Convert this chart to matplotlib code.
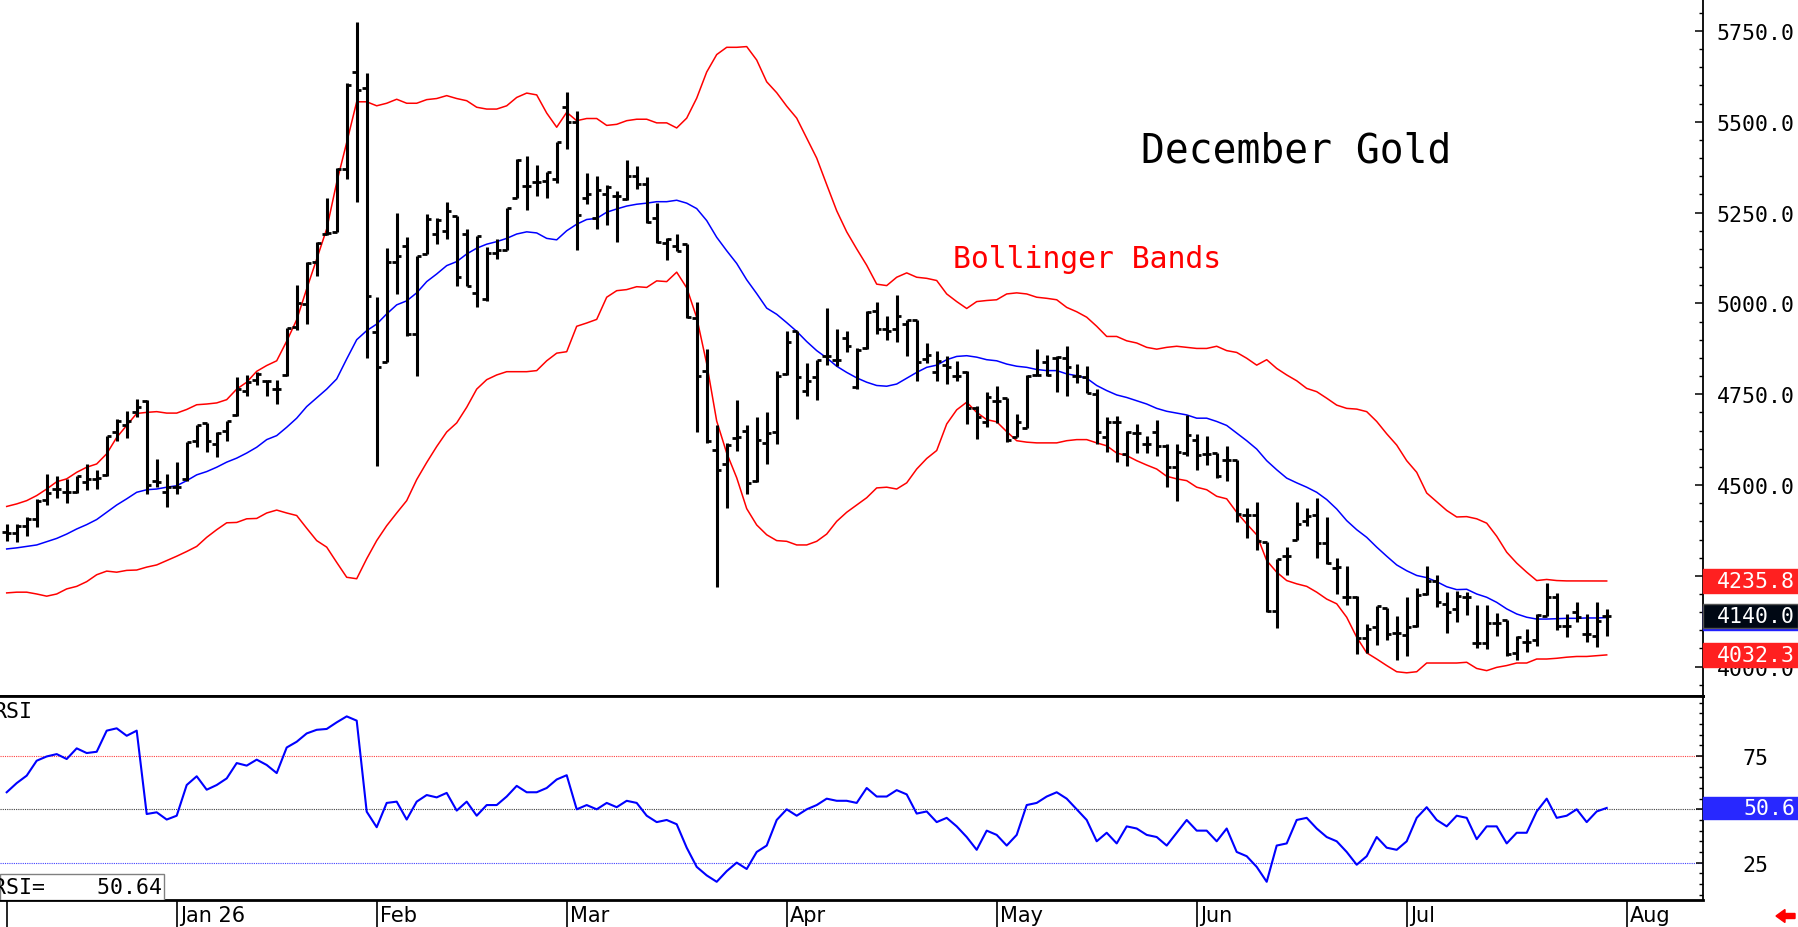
import matplotlib
matplotlib.use('Agg')
import matplotlib.pyplot as plt
import numpy as np
from matplotlib.patches import Rectangle, FancyArrow
from matplotlib.transforms import blended_transform_factory
from matplotlib.ticker import MultipleLocator, FixedLocator, FormatStrFormatter

# Daily OHLC bars, December Gold
opens = [
    4370, 4368, 4388, 4407, 4460, 4489, 4480, 4480, 4508, 4517,
    4528, 4645, 4664, 4700, 4730, 4512, 4480, 4494, 4517, 4622,
    4670, 4613, 4650, 4692, 4758, 4788, 4786, 4763, 4803, 4935,
    4998, 5113, 5190, 5197, 5370, 5638, 5592, 4920, 4840, 5113,
    5159, 4916, 5136, 5191, 5200, 5240, 5190, 5030, 5012, 5140,
    5148, 5289, 5322, 5333, 5338, 5342, 5540, 5500, 5290, 5235,
    5300, 5297, 5287, 5350, 5330, 5235, 5165, 5157, 5163, 4960,
    4815, 4597, 4557, 4630, 4650, 4510, 4615, 4647, 4807, 4923,
    4760, 4797, 4855, 4843, 4905, 4770, 4877, 4980, 4930, 4930,
    4943, 4955, 4847, 4810, 4830, 4801, 4812, 4711, 4674, 4730,
    4739, 4631, 4656, 4803, 4838, 4849, 4849, 4801, 4796, 4750,
    4631, 4673, 4585, 4643, 4613, 4645, 4608, 4549, 4588, 4623,
    4585, 4588, 4570, 4570, 4418, 4418, 4342, 4154, 4304, 4350,
    4402, 4418, 4340, 4271, 4191, 4191, 4078, 4108, 4161, 4093,
    4087, 4111, 4200, 4237, 4173, 4160, 4191, 4065, 4065, 4120,
    4129, 4038, 4067, 4072, 4140, 4191, 4113, 4151, 4090, 4083,
    4139]
highs = [
    4393, 4393, 4411, 4462, 4530, 4526, 4517, 4526, 4558, 4540,
    4636, 4682, 4705, 4737, 4735, 4572, 4530, 4563, 4618, 4665,
    4671, 4645, 4677, 4798, 4803, 4810, 4788, 4788, 4933, 5051,
    5113, 5168, 5289, 5372, 5608, 5775, 5634, 5017, 5152, 5249,
    5182, 5130, 5246, 5234, 5280, 5241, 5205, 5185, 5154, 5177,
    5264, 5397, 5407, 5381, 5362, 5445, 5581, 5530, 5360, 5350,
    5327, 5310, 5395, 5377, 5347, 5277, 5180, 5190, 5163, 5003,
    4875, 4665, 4615, 4733, 4665, 4687, 4700, 4815, 4923, 4923,
    4835, 4843, 4987, 4930, 4925, 4877, 4980, 5003, 4966, 5023,
    4955, 4955, 4891, 4870, 4854, 4842, 4815, 4718, 4757, 4772,
    4739, 4696, 4803, 4874, 4858, 4856, 4882, 4833, 4827, 4764,
    4686, 4689, 4650, 4668, 4634, 4680, 4613, 4613, 4693, 4641,
    4634, 4588, 4607, 4570, 4436, 4453, 4342, 4296, 4329, 4453,
    4436, 4464, 4411, 4298, 4276, 4194, 4118, 4166, 4161, 4139,
    4191, 4216, 4276, 4252, 4206, 4209, 4206, 4170, 4170, 4148,
    4129, 4084, 4104, 4145, 4230, 4203, 4145, 4177, 4145, 4179,
    4159]
lows = [
    4347, 4344, 4361, 4384, 4445, 4464, 4451, 4478, 4485, 4489,
    4526, 4622, 4629, 4686, 4475, 4494, 4439, 4475, 4512, 4604,
    4590, 4576, 4622, 4690, 4744, 4776, 4744, 4724, 4800, 4926,
    4943, 5076, 5188, 5197, 5342, 5278, 4849, 4553, 4840, 5026,
    4911, 4801, 5136, 5164, 5177, 5049, 5047, 4989, 5007, 5122,
    5148, 5289, 5258, 5295, 5289, 5331, 5425, 5148, 5273, 5205,
    5217, 5170, 5285, 5315, 5220, 5165, 5120, 5143, 4960, 4647,
    4617, 4220, 4437, 4595, 4475, 4507, 4557, 4613, 4803, 4683,
    4745, 4733, 4830, 4827, 4867, 4763, 4875, 4916, 4900, 4894,
    4854, 4787, 4836, 4785, 4778, 4787, 4668, 4628, 4659, 4671,
    4619, 4631, 4656, 4799, 4801, 4757, 4746, 4781, 4753, 4613,
    4590, 4564, 4553, 4588, 4588, 4579, 4494, 4457, 4581, 4542,
    4555, 4519, 4512, 4397, 4353, 4322, 4151, 4106, 4251, 4350,
    4388, 4298, 4283, 4200, 4170, 4035, 4038, 4060, 4074, 4017,
    4030, 4108, 4197, 4163, 4093, 4124, 4142, 4050, 4049, 4084,
    4028, 4017, 4041, 4058, 4139, 4102, 4081, 4124, 4069, 4053,
    4084]
closes = [
    4368, 4388, 4407, 4457, 4478, 4489, 4480, 4524, 4517, 4519,
    4636, 4677, 4677, 4714, 4500, 4508, 4494, 4494, 4618, 4664,
    4620, 4643, 4675, 4764, 4783, 4806, 4786, 4763, 4933, 5002,
    5110, 5166, 5195, 5370, 5600, 5588, 5021, 4824, 5113, 5130,
    4915, 5130, 5232, 5230, 5255, 5072, 5049, 5185, 5140, 5148,
    5262, 5395, 5322, 5333, 5362, 5445, 5500, 5243, 5300, 5313,
    5320, 5297, 5350, 5330, 5223, 5170, 5177, 5145, 4963, 4800,
    4620, 4540, 4610, 4633, 4505, 4625, 4643, 4800, 4895, 4797,
    4785, 4843, 4855, 4843, 4883, 4873, 4977, 4930, 4925, 4966,
    4955, 4840, 4858, 4842, 4824, 4799, 4711, 4686, 4741, 4730,
    4625, 4673, 4801, 4803, 4803, 4852, 4824, 4801, 4753, 4645,
    4673, 4673, 4647, 4643, 4613, 4608, 4549, 4592, 4638, 4583,
    4585, 4526, 4570, 4420, 4418, 4347, 4154, 4296, 4304, 4393,
    4414, 4340, 4285, 4274, 4191, 4078, 4104, 4166, 4090, 4093,
    4108, 4197, 4237, 4179, 4150, 4195, 4191, 4065, 4120, 4120,
    4035, 4081, 4067, 4142, 4191, 4113, 4113, 4138, 4090, 4127,
    4140.0]

# Bollinger bands as drawn on the chart
upper = [
    4441, 4448, 4457, 4471, 4489, 4509, 4517, 4535, 4549, 4558,
    4586, 4631, 4664, 4697, 4700, 4702, 4698, 4698, 4708, 4721,
    4723, 4726, 4735, 4764, 4783, 4813, 4829, 4842, 4896, 4955,
    5040, 5122, 5205, 5333, 5443, 5555, 5555, 5544, 5551, 5562,
    5551, 5551, 5561, 5564, 5572, 5564, 5558, 5540, 5535, 5535,
    5544, 5567, 5579, 5574, 5524, 5485, 5526, 5503, 5509, 5509,
    5490, 5493, 5503, 5507, 5507, 5497, 5497, 5483, 5510, 5565,
    5637, 5685, 5705, 5705, 5707, 5670, 5610, 5580, 5543, 5510,
    5455, 5400, 5327, 5255, 5197, 5150, 5105, 5053, 5049, 5072,
    5084, 5072, 5069, 5063, 5026, 5005, 4986, 5005, 5008, 5010,
    5026, 5029, 5026, 5017, 5014, 5010, 4989, 4977, 4962, 4937,
    4909, 4909, 4897, 4891, 4879, 4874, 4879, 4882, 4879, 4876,
    4876, 4882, 4870, 4865, 4849, 4830, 4845, 4821, 4803, 4787,
    4766, 4757, 4739, 4720, 4711, 4709, 4702, 4675, 4641, 4610,
    4567, 4535, 4478, 4454, 4430, 4412, 4413, 4407, 4395, 4359,
    4315, 4285, 4260, 4237, 4240, 4237, 4236, 4236, 4236, 4236,
    4235.8]
middle = [
    4324, 4327, 4331, 4335, 4344, 4353, 4365, 4379, 4391, 4405,
    4425, 4445, 4462, 4480, 4487, 4489, 4494, 4498, 4512, 4528,
    4537, 4549, 4563, 4574, 4588, 4604, 4625, 4636, 4659, 4684,
    4716, 4740, 4764, 4792, 4847, 4900, 4925, 4943, 4971, 4996,
    5007, 5029, 5060, 5081, 5104, 5115, 5136, 5152, 5163, 5170,
    5179, 5191, 5197, 5194, 5179, 5175, 5200, 5218, 5231, 5234,
    5251, 5260, 5268, 5273, 5276, 5280, 5280, 5284, 5276, 5261,
    5228, 5182, 5145, 5110, 5065, 5027, 4987, 4970, 4947, 4923,
    4895, 4870, 4850, 4827, 4810, 4795, 4783, 4774, 4772, 4778,
    4794, 4810, 4824, 4830, 4845, 4854, 4856, 4852, 4845, 4842,
    4833, 4827, 4824, 4818, 4815, 4815, 4806, 4801, 4794, 4774,
    4760, 4748, 4741, 4732, 4723, 4711, 4703, 4698, 4693, 4684,
    4684, 4675, 4664, 4643, 4622, 4599, 4567, 4542, 4519, 4506,
    4494, 4480, 4460, 4434, 4402, 4377, 4356, 4329, 4304, 4280,
    4264, 4251, 4245, 4234, 4220, 4212, 4213, 4200, 4191, 4177,
    4159, 4145, 4136, 4131, 4131, 4132, 4133, 4133, 4134, 4134,
    4135]
lower = [
    4203, 4205, 4205, 4200, 4194, 4200, 4214, 4221, 4234, 4253,
    4263, 4260, 4265, 4266, 4274, 4280, 4292, 4304, 4317, 4331,
    4356, 4377, 4396, 4397, 4407, 4408, 4423, 4431, 4423, 4416,
    4381, 4347, 4329, 4287, 4246, 4242, 4297, 4347, 4388, 4423,
    4457, 4515, 4562, 4606, 4646, 4671, 4714, 4764, 4790, 4803,
    4812, 4812, 4812, 4815, 4842, 4863, 4867, 4937, 4946, 4956,
    5017, 5035, 5038, 5046, 5044, 5062, 5060, 5086, 5043, 4961,
    4834, 4676, 4588, 4520, 4435, 4390, 4363, 4347, 4345, 4335,
    4335, 4345, 4365, 4400, 4425, 4445, 4465, 4492, 4494, 4489,
    4506, 4544, 4573, 4595, 4668, 4707, 4728, 4700, 4680, 4674,
    4647, 4622, 4618, 4616, 4616, 4616, 4622, 4625, 4625, 4616,
    4608, 4588, 4581, 4567, 4555, 4544, 4524, 4517, 4512, 4494,
    4487, 4469, 4462, 4425, 4393, 4363, 4292, 4260, 4237, 4228,
    4221, 4205, 4186, 4173, 4136, 4081, 4038, 4021, 4003, 3986,
    3983, 3986, 4010, 4010, 4010, 4010, 4012, 3995, 3989, 3998,
    4003, 4010, 4010, 4021, 4021, 4023, 4026, 4028, 4028, 4030,
    4032.3]

# RSI study
rsi = [
    58, 62.3, 65.8, 72.8, 74.8, 75.9, 73.6, 78.6, 76.4, 77,
    86.9, 88, 84.5, 86.9, 47.8, 48.6, 45.2, 47, 61.4, 65.5,
    59.2, 61.4, 64.5, 71.7, 70.5, 73.3, 70.8, 67, 79, 81.7,
    85.6, 87.3, 87.7, 90.8, 93.6, 91.6, 48.9, 41.6, 53, 53.6,
    45.2, 53.6, 56.7, 55.6, 57.7, 49.4, 53.6, 47, 52, 52,
    56, 61, 58, 58, 60, 64, 66, 50, 52, 50,
    53, 51, 54, 53, 47, 44, 45, 43, 32, 23,
    19, 16, 21, 25, 22, 30, 33, 45, 50, 47,
    50, 52, 55, 54, 54, 53, 60, 56, 56, 59,
    57, 48, 49, 44, 46, 42, 37, 31, 40, 38,
    33, 38, 52, 53, 56, 58, 55, 50, 45, 35,
    39, 34, 42, 41, 38, 37, 33, 39, 45, 40,
    40, 35, 41, 30, 28, 23, 16, 33, 34, 45,
    46, 41, 37, 35, 30, 24, 28, 37, 32, 31,
    35, 46, 51, 45, 42, 47, 46, 36, 42, 42,
    34, 39, 39, 49, 55, 46, 47, 50, 44, 49,
    50.64]

# first trading day of each month (bar index) and its label
month_starts = [0, 17, 37, 56, 78, 99, 119, 140, 162]
month_labels = ['', 'Jan 26', 'Feb', 'Mar', 'Apr', 'May', 'Jun', 'Jul', 'Aug']

MONO = 'DejaVu Sans Mono'
W, H = 1798, 928
right_px = 1703          # right spine of the panels
main_bot = 696.7         # bottom of price panel
rsi_bot = 900.7          # bottom of rsi panel

fig = plt.figure(figsize=(W / 100, H / 100), dpi=100)
ax = fig.add_axes([0, 1 - main_bot / H, right_px / W, main_bot / H])
ax_rsi = fig.add_axes([0, 1 - rsi_bot / H, right_px / W, (rsi_bot - main_bot) / H])
ax_date = fig.add_axes([0, 0, right_px / W, 1 - rsi_bot / H])

x = np.arange(len(closes))
xlim = (-0.67, 169.63)

# --- price panel ---
ax.vlines(x, lows, highs, color='black', lw=2.2, zorder=3)
ax.hlines(opens, x - 0.45, x, color='black', lw=2.0, zorder=3)
ax.hlines(closes, x, x + 0.45, color='black', lw=2.0, zorder=3)
ax.plot(x, upper, color='#ff0000', lw=1.1, zorder=2)
ax.plot(x, lower, color='#ff0000', lw=1.1, zorder=2)
ax.plot(x, middle, color='#0000ff', lw=1.1, zorder=2)

ax.set_xlim(*xlim)
ax.set_ylim(3920, 5838)
ax.yaxis.tick_right()
ax.yaxis.set_major_locator(MultipleLocator(250))
ax.yaxis.set_minor_locator(MultipleLocator(50))
ax.yaxis.set_major_formatter(FormatStrFormatter('%.1f'))
ax.tick_params(axis='y', which='major', direction='in', length=6, width=1.1,
               pad=38, labelsize=15.5, labelfontfamily=MONO)
ax.tick_params(axis='y', which='minor', direction='in', length=3, width=1.0)
ax.tick_params(axis='x', which='both', bottom=False, labelbottom=False)
for t in ax.yaxis.get_major_ticks():
    t.label2.set_horizontalalignment('center')
for s in ['left', 'top']:
    ax.spines[s].set_visible(False)
ax.spines['right'].set_linewidth(1.3)
ax.spines['bottom'].set_linewidth(2.0)

ax.text(0.670, 0.783, 'December Gold', transform=ax.transAxes, ha='left', va='center',
        fontsize=28.5, family=MONO, color='black')
ax.text(0.5596, 0.628, 'Bollinger Bands', transform=ax.transAxes, ha='left', va='center',
        fontsize=21.4, family=MONO, color='#ff0000')

# value boxes on the right edge
trans = blended_transform_factory(ax.transAxes, ax.transData)
box_w = (W - right_px) / right_px
box_h = 24 / (main_bot / (5838 - 3920))
txt_x = (W - 3) / right_px


def value_box(axis, tr, val, h, face, label, edge=None):
    axis.add_patch(Rectangle((1.0, val - h / 2), box_w, h, transform=tr, facecolor=face,
                             edgecolor=edge if edge else face, lw=1, clip_on=False, zorder=10))
    if label:
        axis.text(txt_x, val, label, transform=tr, ha='right', va='center', color='white',
                  fontsize=15.5, family=MONO, clip_on=False, zorder=11)


value_box(ax, trans, upper[-1], box_h, '#ff2020', f'{upper[-1]:.1f}')
value_box(ax, trans, middle[-1], box_h, '#2020ff', None)
value_box(ax, trans, closes[-1], box_h, '#000814', f'{closes[-1]:.1f}', edge='#555555')
value_box(ax, trans, lower[-1], box_h, '#ff2020', f'{lower[-1]:.1f}')

# --- RSI panel ---
ax_rsi.plot(x, rsi, color='#0000ff', lw=1.5, zorder=3)
ax_rsi.axhline(75, color='#ff4040', lw=0.8, ls=(0, (1, 1)), zorder=1)
ax_rsi.axhline(50, color='#404040', lw=0.8, ls=(0, (1, 1)), zorder=1)
ax_rsi.axhline(25, color='#4040ff', lw=0.8, ls=(0, (1, 1)), zorder=1)
ax_rsi.set_xlim(*xlim)
ax_rsi.set_ylim(7.6, 103.3)
ax_rsi.yaxis.tick_right()
ax_rsi.yaxis.set_major_locator(FixedLocator([25, 50, 75]))
ax_rsi.yaxis.set_minor_locator(MultipleLocator(5))
ax_rsi.yaxis.set_major_formatter(FormatStrFormatter('%d'))
ax_rsi.tick_params(axis='y', which='major', direction='in', length=5, width=1.1,
                   pad=38, labelsize=15.5, labelfontfamily=MONO)
ax_rsi.tick_params(axis='y', which='minor', direction='in', length=3, width=1.0)
ax_rsi.tick_params(axis='x', which='both', bottom=False, labelbottom=False)
for t in ax_rsi.yaxis.get_major_ticks():
    t.label2.set_horizontalalignment('center')
ax_rsi.spines['left'].set_visible(False)
ax_rsi.spines['top'].set_linewidth(2.0)
ax_rsi.spines['bottom'].set_linewidth(2.0)
ax_rsi.spines['right'].set_linewidth(1.3)

rsi_trans = blended_transform_factory(ax_rsi.transAxes, ax_rsi.transData)
value_box(ax_rsi, rsi_trans, rsi[-1], 10.5, '#2828ff', f'{rsi[-1]:.1f}')

ax_rsi.text(-0.004, 0.975, 'RSI', transform=ax_rsi.transAxes, ha='left', va='top',
            fontsize=15.5, family=MONO)
ax_rsi.add_patch(Rectangle((0, 0), 164 / right_px, 0.126, transform=ax_rsi.transAxes,
                           facecolor='white', edgecolor='#808080', lw=1, zorder=5))
ax_rsi.text(162 / right_px, 0.063, f'RSI=    {rsi[-1]:.2f}', transform=ax_rsi.transAxes,
            ha='right', va='center', fontsize=15.5, family=MONO, zorder=6)

# --- date strip ---
ax_date.set_xlim(*xlim)
ax_date.set_ylim(0, 1)
ax_date.axis('off')
ax_date.vlines(month_starts, 0, 1, color='black', lw=1.2)
for m, lab in zip(month_starts, month_labels):
    ax_date.text(m + 0.3, 0.45, lab, ha='left', va='center', fontsize=15, color='black')

# little red arrow bottom right
fig.add_artist(FancyArrow(17.95, 0.11, -0.19, 0, width=0.05, head_width=0.13, head_length=0.09,
                          length_includes_head=True, color='#ff0000',
                          transform=fig.dpi_scale_trans))

fig.savefig('out.png', dpi=100, facecolor='white')
